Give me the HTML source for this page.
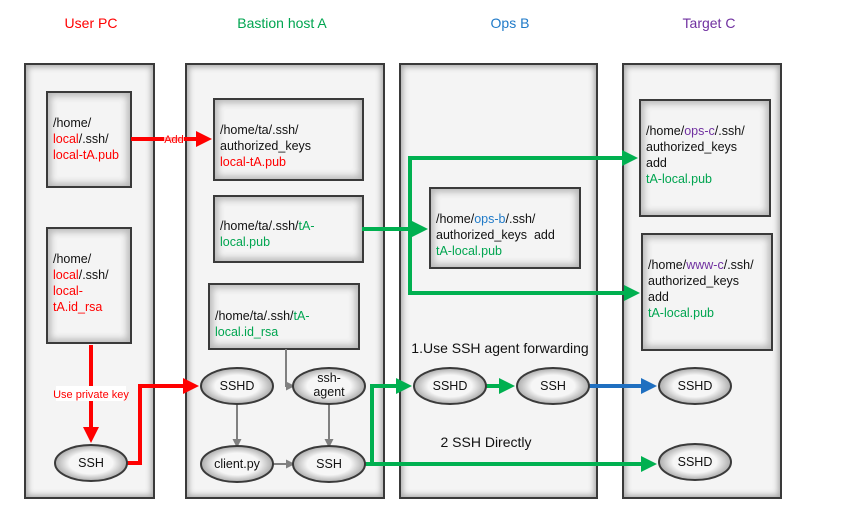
<!DOCTYPE html>
<html><head><meta charset="utf-8"><style>
body{margin:0;width:845px;height:517px;background:#fff;position:relative;overflow:hidden;font-family:"Liberation Sans",sans-serif;}
.col{position:absolute;top:63px;height:436px;background:#f4f4f4;border:2px solid #3a3a3a;box-shadow:inset 0 0 6px 2px #aaa;box-sizing:border-box;}
.box{position:absolute;background:#f4f4f4;border:2px solid #3a3a3a;box-shadow:inset 0 0 7px 3px #b8b8b8;box-sizing:border-box;font-size:12.5px;line-height:16px;color:#111;padding-left:5px;}
.t{position:absolute;top:15px;font-size:14px;transform:translateX(-50%);white-space:nowrap}
.r{color:#f00}.g{color:#00a550}.b{color:#1f7ac8}.p{color:#7030a0}
svg{position:absolute;left:0;top:0}
</style></head><body>
<div class="t r" style="left:91px">User PC</div>
<div class="t g" style="left:282px">Bastion host A</div>
<div class="t b" style="left:510px">Ops B</div>
<div class="t p" style="left:709px">Target C</div>

<div class="col" style="left:24px;width:131px"></div>
<div class="col" style="left:185px;width:200px"></div>
<div class="col" style="left:399px;width:199px"></div>
<div class="col" style="left:622px;width:160px"></div>

<div class="box" style="left:46px;top:91px;width:86px;height:97px;padding-top:22px">/home/<br><span class="r">local</span>/.ssh/<br><span class="r">local-tA.pub</span></div>
<div class="box" style="left:46px;top:227px;width:86px;height:117px;padding-top:22px">/home/<br><span class="r">local</span>/.ssh/<br><span class="r">local-<br>tA.id_rsa</span></div>
<div class="box" style="left:213px;top:98px;width:151px;height:83px;padding-top:22px">/home/ta/.ssh/<br>authorized_keys<br><span class="r">local-tA.pub</span></div>
<div class="box" style="left:213px;top:195px;width:151px;height:68px;padding-top:21px">/home/ta/.ssh/<span class="g">tA-<br>local.pub</span></div>
<div class="box" style="left:208px;top:283px;width:152px;height:67px;padding-top:23px">/home/ta/.ssh/<span class="g">tA-<br>local.id_rsa</span></div>
<div class="box" style="left:429px;top:187px;width:152px;height:82px;padding-top:22px">/home/<span class="b">ops-b</span>/.ssh/<br>authorized_keys&nbsp; add<br><span class="g">tA-local.pub</span></div>
<div class="box" style="left:639px;top:99px;width:132px;height:118px;padding-top:22px">/home/<span class="p">ops-c</span>/.ssh/<br>authorized_keys<br>add<br><span class="g">tA-local.pub</span></div>
<div class="box" style="left:641px;top:233px;width:132px;height:118px;padding-top:22px">/home/<span class="p">www-c</span>/.ssh/<br>authorized_keys<br>add<br><span class="g">tA-local.pub</span></div>

<svg width="845" height="517">
<defs>
<radialGradient id="eg" cx="50%" cy="50%" r="55%"><stop offset="0.55" stop-color="#f6f6f6"/><stop offset="1" stop-color="#999"/></radialGradient>
<marker id="ar" markerWidth="4" markerHeight="4" refX="2.5" refY="2" orient="auto"><path d="M0,0L4,2L0,4z" fill="#f00"/></marker>
<marker id="ag" markerWidth="4" markerHeight="4" refX="2.5" refY="2" orient="auto"><path d="M0,0L4,2L0,4z" fill="#00b050"/></marker>
<marker id="ab" markerWidth="4" markerHeight="4" refX="2.5" refY="2" orient="auto"><path d="M0,0L4,2L0,4z" fill="#1f6fc0"/></marker>
<marker id="ay" markerWidth="9" markerHeight="9" refX="7" refY="4.5" orient="auto" markerUnits="userSpaceOnUse"><path d="M0,0L9,4.5L0,9z" fill="#808080"/></marker>
</defs>
<g fill="none" stroke-width="4">
<path d="M131,139H206" stroke="#f00" marker-end="url(#ar)"/>
<path d="M91,345V437" stroke="#f00" marker-end="url(#ar)"/>
<path d="M127,463H140V386H193" stroke="#f00" marker-end="url(#ar)"/>
<path d="M362,229H422" stroke="#00b050" marker-end="url(#ag)"/>
<path d="M410,229V158H632" stroke="#00b050" marker-end="url(#ag)"/>
<path d="M410,229V293H634" stroke="#00b050" marker-end="url(#ag)"/>
<path d="M365,464H372V386H406" stroke="#00b050" marker-end="url(#ag)"/>
<path d="M372,464H651" stroke="#00b050" marker-end="url(#ag)"/>
<path d="M486,386H509" stroke="#00b050" marker-end="url(#ag)"/>
<path d="M589,386H651" stroke="#1f6fc0" marker-end="url(#ab)"/>
</g>
<g fill="none" stroke="#808080" stroke-width="2">
<path d="M286,349V386H293" marker-end="url(#ay)"/>
<path d="M237,404V446" marker-end="url(#ay)"/>
<path d="M329,404V446" marker-end="url(#ay)"/>
<path d="M273,464H293" marker-end="url(#ay)"/>
</g>
<rect x="164" y="133" width="20" height="12" fill="#fff" opacity="0.7"/>
<text x="174" y="143" font-size="11" fill="#f00" text-anchor="middle" font-family="Liberation Sans">Add</text>
<rect x="56" y="386" width="70" height="15" fill="#fff"/>
<text x="91" y="398" font-size="11" fill="#f00" text-anchor="middle" font-family="Liberation Sans">Use private key</text>
<g stroke="#3a3a3a" stroke-width="2" fill="url(#eg)">
<ellipse cx="91" cy="463" rx="36" ry="18"/>
<ellipse cx="237" cy="386" rx="36" ry="18"/>
<ellipse cx="329" cy="386" rx="36" ry="18"/>
<ellipse cx="237" cy="464" rx="36" ry="18"/>
<ellipse cx="329" cy="464" rx="36" ry="18"/>
<ellipse cx="450" cy="386" rx="36" ry="18"/>
<ellipse cx="553" cy="386" rx="36" ry="18"/>
<ellipse cx="695" cy="386" rx="36" ry="18"/>
<ellipse cx="695" cy="462" rx="36" ry="18"/>
</g>
<g font-family="Liberation Sans" font-size="12.5" fill="#111" text-anchor="middle">
<text x="91" y="467">SSH</text>
<text x="237" y="390">SSHD</text>
<text x="329" y="382">ssh-</text><text x="329" y="396">agent</text>
<text x="237" y="468">client.py</text>
<text x="329" y="468">SSH</text>
<text x="450" y="390">SSHD</text>
<text x="553" y="390">SSH</text>
<text x="695" y="390">SSHD</text>
<text x="695" y="466">SSHD</text>
</g>
<text x="500" y="353" font-family="Liberation Sans" font-size="14" fill="#111" text-anchor="middle">1.Use SSH agent forwarding</text>
<text x="486" y="447" font-family="Liberation Sans" font-size="14" fill="#111" text-anchor="middle">2 SSH Directly</text>
</svg>
</body></html>
